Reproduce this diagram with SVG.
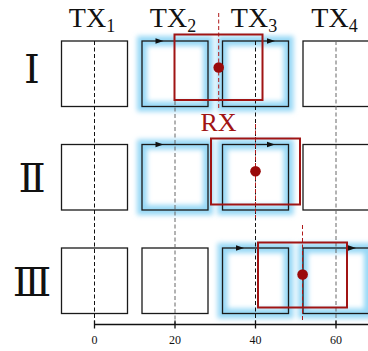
<svg xmlns="http://www.w3.org/2000/svg" width="368" height="351" viewBox="0 0 368 351">
<style>
.box{fill:none;stroke:#1a1a1a;stroke-width:1.3}
.hfill{fill:#ffffff}
.glow{fill:none;stroke:#97d8f6;stroke-width:10;filter:url(#blur)}
.rx{fill:none;stroke:#a01414;stroke-width:2}
.dot{fill:#9a0a0a}
.dk{stroke:#111;stroke-width:1;stroke-dasharray:4 2.5;fill:none}
.gr{stroke:#666;stroke-width:1;stroke-dasharray:4 2.5;fill:none}
.rd{stroke:#b01a1a;stroke-width:1;stroke-dasharray:4 2.5;fill:none}
.tx{font-family:"Liberation Serif","Times New Roman",serif;font-size:28px;fill:#111}
.sub{font-size:18px}
.row{font-family:"DejaVu Serif","Liberation Serif",serif;font-size:40px;fill:#111}
.ax{font-family:"Liberation Serif",serif;font-size:12px;fill:#111}
.arr{fill:#111}
</style>
<defs>
<filter id="blur" x="-30%" y="-30%" width="160%" height="160%"><feGaussianBlur stdDeviation="2.8"/></filter>
</defs>

<g id="headers">
<text class="tx" x="92" y="27" text-anchor="middle">TX<tspan class="sub" dy="5">1</tspan></text>
<text class="tx" x="173" y="27" text-anchor="middle">TX<tspan class="sub" dy="5">2</tspan></text>
<text class="tx" x="254" y="27" text-anchor="middle">TX<tspan class="sub" dy="5">3</tspan></text>
<text class="tx" x="334.5" y="27" text-anchor="middle">TX<tspan class="sub" dy="5">4</tspan></text>
</g>

<g id="row-labels">
<text class="row" x="32" y="83" text-anchor="middle">Ⅰ</text>
<text class="row" x="32" y="192" text-anchor="middle">Ⅱ</text>
<text class="row" x="32" y="296" text-anchor="middle">Ⅲ</text>
</g>

<!-- Row I -->
<g id="row1">
<g id="r1-tx1"><rect class="box" x="61.5" y="41" width="66" height="65.5"/></g>
<g id="r1-tx2"><rect class="hfill" x="142" y="41" width="66" height="65.5"/><rect class="glow" x="142" y="41" width="66" height="65.5"/><rect class="box" x="142" y="41" width="66" height="65.5"/><polygon class="arr" points="155.5,38.3 163.5,41 155.5,43.7"/></g>
<g id="r1-tx3"><rect class="hfill" x="222.5" y="41" width="66" height="65.5"/><rect class="glow" x="222.5" y="41" width="66" height="65.5"/><rect class="box" x="222.5" y="41" width="66" height="65.5"/><polygon class="arr" points="267,38.3 275,41 267,43.7"/></g>
<g id="r1-tx4"><rect class="box" x="303" y="41" width="66" height="65.5"/></g>
</g>

<!-- Row II -->
<g id="row2">
<g id="r2-tx1"><rect class="box" x="61.5" y="144.5" width="66" height="65.5"/></g>
<g id="r2-tx2"><rect class="hfill" x="142" y="144.5" width="66" height="65.5"/><rect class="glow" x="142" y="144.5" width="66" height="65.5"/><rect class="box" x="142" y="144.5" width="66" height="65.5"/><polygon class="arr" points="155.5,141.8 163.5,144.5 155.5,147.2"/></g>
<g id="r2-tx3"><rect class="hfill" x="222.5" y="144.5" width="66" height="65.5"/><rect class="glow" x="222.5" y="144.5" width="66" height="65.5"/><rect class="box" x="222.5" y="144.5" width="66" height="65.5"/><polygon class="arr" points="267,141.8 275,144.5 267,147.2"/></g>
<g id="r2-tx4"><rect class="box" x="303" y="144.5" width="66" height="65.5"/></g>
</g>

<!-- Row III -->
<g id="row3">
<g id="r3-tx1"><rect class="box" x="61.5" y="248" width="66" height="65.5"/></g>
<g id="r3-tx2"><rect class="box" x="142" y="248" width="66" height="65.5"/></g>
<g id="r3-tx3"><rect class="hfill" x="222.5" y="248" width="66" height="65.5"/><rect class="glow" x="222.5" y="248" width="66" height="65.5"/><rect class="box" x="222.5" y="248" width="66" height="65.5"/><polygon class="arr" points="236,245.3 244,248 236,250.7"/></g>
<g id="r3-tx4"><rect class="hfill" x="303" y="248" width="66" height="65.5"/><rect class="glow" x="303" y="248" width="66" height="65.5"/><rect class="box" x="303" y="248" width="66" height="65.5"/><polygon class="arr" points="348,245.3 356,248 348,250.7"/></g>
</g>

<g id="connectors">
<line class="dk" x1="94.5" y1="41" x2="94.5" y2="324"/>
<line class="gr" x1="175" y1="101" x2="175" y2="324"/>
<line class="dk" x1="255.5" y1="41" x2="255.5" y2="324"/>
<line class="gr" x1="336" y1="41" x2="336" y2="324"/>
<line class="rd" x1="218.7" y1="13" x2="218.7" y2="108"/>
<line class="rd" x1="255.5" y1="124" x2="255.5" y2="218"/>
<line class="rd" x1="302.5" y1="225" x2="302.5" y2="322"/>
</g>

<g id="rx1"><rect class="rx" x="174.5" y="34.5" width="88" height="65.5"/><circle class="dot" cx="218.7" cy="67.5" r="5.3"/></g>
<g id="rx-label"><text x="218.5" y="130.5" text-anchor="middle" font-family="Liberation Serif, serif" font-size="26" fill="#a01414">RX</text></g>
<g id="rx2"><rect class="rx" x="211" y="138.5" width="89" height="66"/><circle class="dot" cx="255.5" cy="171.3" r="5.3"/></g>
<g id="rx3"><rect class="rx" x="258" y="242.5" width="89" height="65"/><circle class="dot" cx="302.6" cy="274.5" r="5.3"/></g>

<g id="axis">
<line x1="94.5" y1="324.5" x2="368" y2="324.5" stroke="#111" stroke-width="1.3"/>
<line x1="94.5" y1="320.5" x2="94.5" y2="328.5" stroke="#111" stroke-width="1.3"/>
<line x1="175" y1="320.5" x2="175" y2="328.5" stroke="#111" stroke-width="1.3"/>
<line x1="255.5" y1="320.5" x2="255.5" y2="328.5" stroke="#111" stroke-width="1.3"/>
<line x1="336" y1="320.5" x2="336" y2="328.5" stroke="#111" stroke-width="1.3"/>
<text class="ax" x="94.5" y="344" text-anchor="middle">0</text>
<text class="ax" x="175" y="344" text-anchor="middle">20</text>
<text class="ax" x="255.5" y="344" text-anchor="middle">40</text>
<text class="ax" x="336" y="344" text-anchor="middle">60</text>
</g>
</svg>
